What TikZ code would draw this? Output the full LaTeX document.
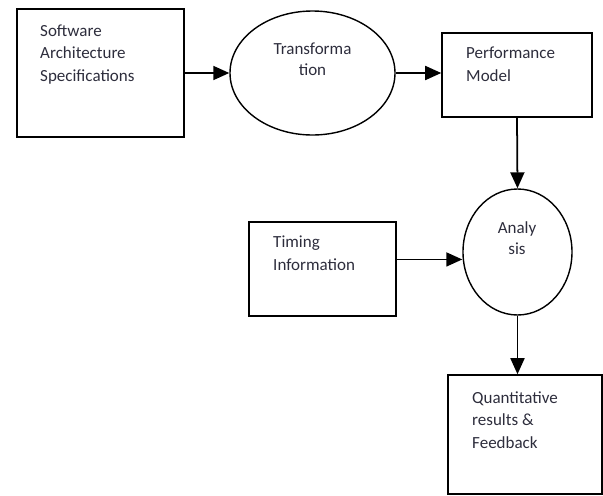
\documentclass[tikz,border=0pt]{standalone}
\usepackage{fontspec}
\setmainfont{Carlito}
\usetikzlibrary{arrows.meta,calc,shapes.geometric}
\definecolor{txtcol}{RGB}{45,45,60}

\begin{document}
\begin{tikzpicture}[x=0.03cm, y=-0.03cm,
  box/.style = {draw, line width=1.3pt, rectangle, inner sep=0pt},
  oval/.style = {draw, line width=1.2pt, ellipse, inner sep=0pt},
  txt/.style = {inner sep=0pt, align=left, text=txtcol, font=\fontsize{14.5}{18.8}\selectfont},
  ctxt/.style = {inner sep=0pt, align=center, text=txtcol, font=\fontsize{14.5}{17.5}\selectfont},
  arr/.style = {line width=1.5pt, -{Triangle[length=4.8mm, width=4.2mm]}}]
\useasboundingbox (0,0) rectangle (603,496);

\node[box, minimum width=5.01cm, minimum height=3.84cm] (sas) at (100.5,73) {};
\node[oval, minimum width=4.95cm, minimum height=3.72cm] (trans) at (312.5,73) {};
\node[box, minimum width=4.5cm, minimum height=2.52cm] (pm) at (517,75) {};
\node[oval, minimum width=3.27cm, minimum height=3.78cm] (ana) at (517.5,252) {};
\node[box, minimum width=4.41cm, minimum height=2.82cm] (tim) at (322.5,269) {};
\node[box, minimum width=4.62cm, minimum height=3.57cm] (qr) at (525,434.5) {};

% base anchor = baseline of the last line
\node[txt, anchor=base west] (sas-t) at (40,81) {Software\\Architecture\\Specifications};
\node[ctxt, anchor=base] (trans-t) at (312.5,75) {Transforma\\tion};
\node[txt, anchor=base west] (pm-t) at (466,81) {Performance\\Model};
\node[ctxt, anchor=base] (ana-t) at (517,254) {Analy\\sis};
\node[txt, anchor=base west] (tim-t) at (273,270) {Timing\\Information};
\node[txt, anchor=base west] (qr-t) at (472,448) {Quantitative\\results \&\\Feedback};

\coordinate (tim-out) at ($(tim.north east)!.4!(tim.south east)$);
\draw[arr] (sas.east) -- (sas.east -| trans.west);
\draw[arr] (trans.east) -- (trans.east -| pm.west);
\draw[arr] (pm.south) -- (ana.north);
\draw[arr] (tim-out) -- (tim-out -| ana.west);
\draw[arr] (ana.south) -- (ana.south |- qr.north);
\end{tikzpicture}
\end{document}
